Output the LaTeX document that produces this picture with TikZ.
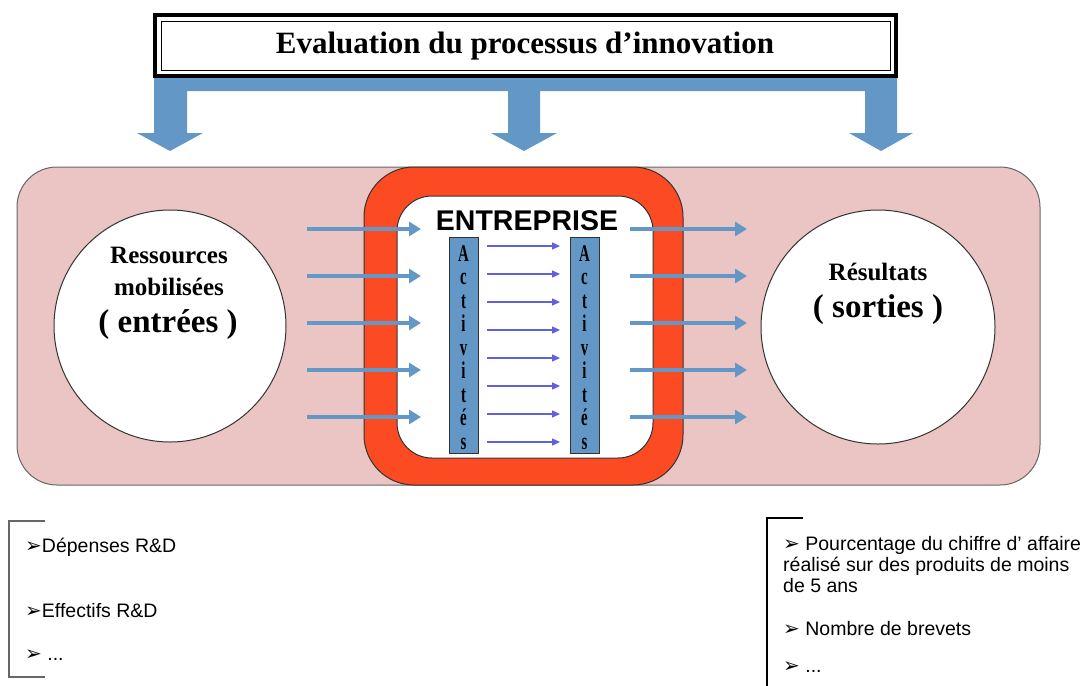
\documentclass[tikz,border=0pt]{standalone}
\usepackage{fontspec}
\setmainfont{Liberation Serif}
\setsansfont{Liberation Sans}
\newfontfamily\symfont{DejaVu Sans}
\newfontfamily\narrowfont[FakeStretch=0.62]{Liberation Serif Bold}
\usetikzlibrary{arrows.meta}
\usetikzlibrary{positioning}
\definecolor{evalblue}{RGB}{99,152,198}
\definecolor{zonepink}{RGB}{235,197,196}
\definecolor{entred}{RGB}{252,74,34}
\definecolor{flowblue}{RGB}{95,95,225}
\newcommand{\puce}{{\symfont\fontsize{20}{21}\selectfont ➢}}

\begin{document}
\begin{tikzpicture}[x=1pt,y=-1pt,>=Stealth,
    zone/.style={draw=black!60,line width=1pt,rounded corners=#1},
    circ/.style={circle,draw=black!80,fill=white,line width=1pt,minimum size=#1,inner sep=0pt},
    bar/.style={draw=black!80,fill=evalblue,line width=1pt,minimum width=29pt,minimum height=216pt,inner sep=0pt},
    lettre/.style={font=\narrowfont\fontsize{24}{24}\selectfont,anchor=base,inner sep=0pt},
    big/.style={font=\bfseries\fontsize{25}{30}\selectfont,anchor=base,inner sep=0pt},
    bigger/.style={font=\bfseries\fontsize{33}{36}\selectfont,anchor=base,inner sep=0pt},
    item/.style={font=\sffamily\fontsize{19.5}{21}\selectfont,anchor=base west,inner sep=0pt,align=left},
    flux/.style={evalblue,line width=3.5pt,-{Triangle[length=12pt,width=14pt]}},
    act/.style={flowblue,line width=1.5pt,-{Triangle[length=8pt,width=7pt]}}]
    \useasboundingbox (0,0) rectangle (1088,686);

    % bandeau bleu et fleches vers le bas
    \fill[evalblue] (154,78) -- (897,78) -- (897,133) -- (913,133) -- (881,151) -- (849,133)
      -- (865,133) -- (865,91) -- (540,91) -- (540,133) -- (557,133) -- (524,151) -- (491,133)
      -- (508,133) -- (508,91) -- (187,91) -- (187,133) -- (203,133) -- (170,151) -- (137,133)
      -- (154,133) -- cycle;
    \draw[line width=4.5pt,fill=white] (155,15) rectangle (896,76);
    \draw[line width=0.8pt] (161,21) rectangle (890,70);
    \node[font=\bfseries\fontsize{31}{36}\selectfont,anchor=base,inner sep=0pt] (titre) at (525,53) {Evaluation du processus d’innovation};

    % zones
    \draw[zone=40pt,fill=zonepink] (17,167) rectangle (1040,485);
    \draw[zone=50pt,fill=entred,draw=black!80] (364,167) rectangle (683,485);
    \draw[zone=35pt,fill=white,draw=black!80] (397,196) rectangle (653,458);

    \node[circ=232pt] (ress) at (170,326) {};
    \node[circ=234pt] (sort) at (878,327) {};
    \node[big] (resstxt) at (169,263) {Ressources};
    \node[big] (mobtxt) at (169,295) {mobilisées};
    \node[bigger] (entrtxt) at (168,332) {( entrées )};
    \node[big] (restxt) at (878,280) {Résultats};
    \node[bigger] (sorttxt) at (878,317) {( sorties )};

    \node[font=\sffamily\bfseries\fontsize{28.5}{30}\selectfont,anchor=base,inner sep=0pt] (ent) at (527,230) {ENTREPRISE};

    % activites
    \node[bar] (actg) at (463.5,345) {};
    \node[bar] (actd) at (584.5,345) {};
    \foreach \l [count=\k from 0] in {A,c,t,i,v,i,t,é,s} {
      \node[lettre] (lg\k) at (463.5,261+23.5*\k) {\l};
      \node[lettre] (ld\k) at (584.5,261+23.5*\k) {\l};
    }
    \foreach \k in {0,...,7} {
      \coordinate (ag\k) at (487,246+28*\k);
      \coordinate (ad\k) at (560,246+28*\k);
      \draw[act] (ag\k) -- (ad\k);
    }

    % entrees et sorties
    \foreach \k in {0,...,4} {
      \coordinate (e\k) at (307,229+47*\k);
      \coordinate (f\k) at (421,229+47*\k);
      \coordinate (g\k) at (630,229+47*\k);
      \coordinate (h\k) at (747,229+47*\k);
      \draw[flux] (e\k) -- (f\k);
      \draw[flux] (g\k) -- (h\k);
    }

    % indicateurs
    \draw[black!60,line width=1.8pt] (45,521) -- (9,521) -- (9,677) -- (45,677);
    \draw[line width=2.5pt] (803,518) -- (767,518) -- (767,686);
    \node[item] (dep) at (25,552) {\puce Dépenses R\&D};
    \node[item] (eff) at (25,617) {\puce Effectifs R\&D};
    \node[item] (autg) at (25,660) {\puce\ ...};
    \node[item] (pct) at (783,592) {\puce\ Pourcentage du chiffre d’ affaire\\réalisé sur des produits de moins\\de 5 ans};
    \node[item] (brev) at (783,635) {\puce\ Nombre de brevets};
    \node[item] (autd) at (783,672) {\puce\ ...};
\end{tikzpicture}
\end{document}
